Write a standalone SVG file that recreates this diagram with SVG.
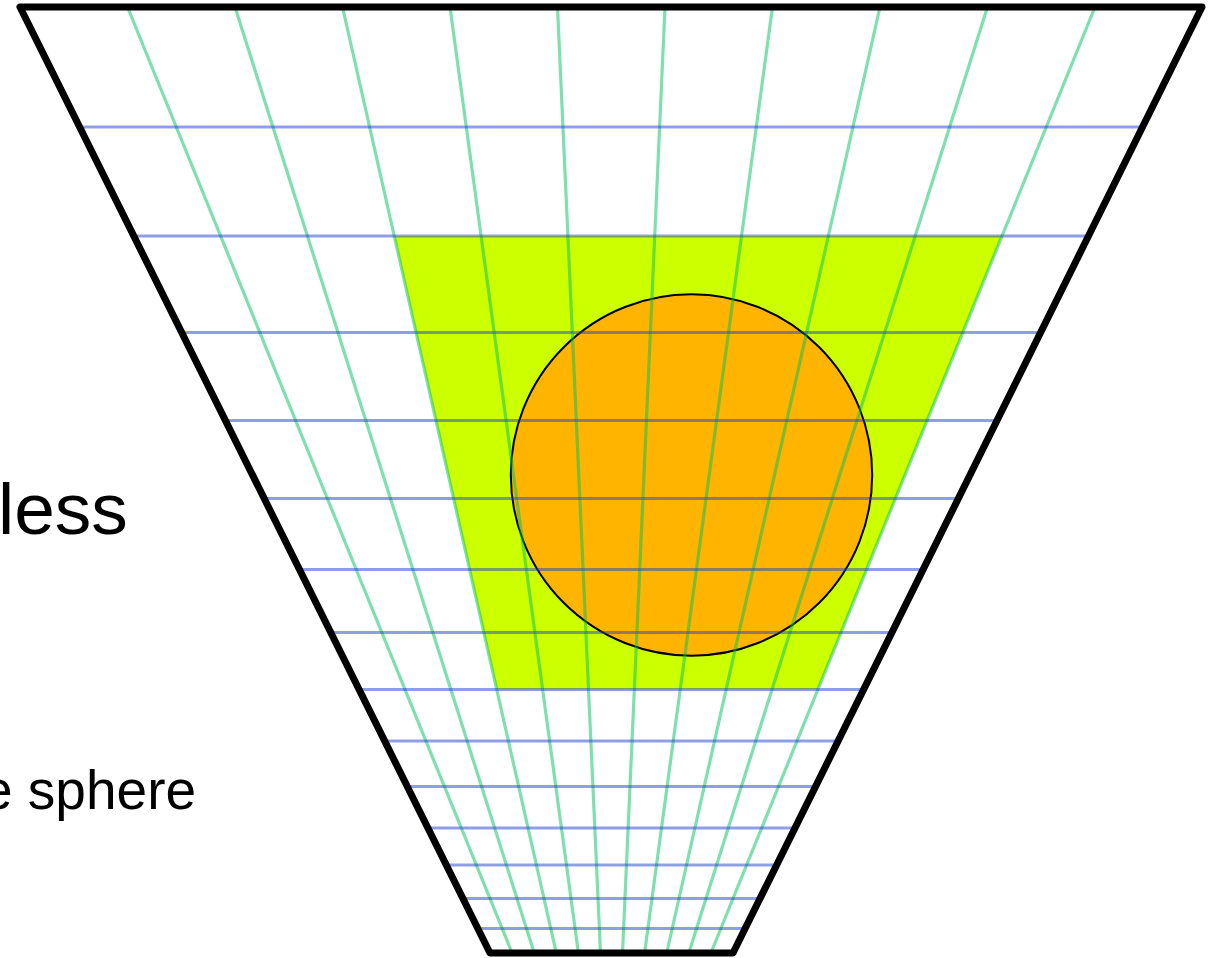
<svg xmlns="http://www.w3.org/2000/svg" width="1210" height="958" viewBox="0 0 1210 958">
<style>
.g{stroke:#00c060;stroke-opacity:0.5;stroke-width:3.2;fill:none}
.b{stroke:#2040d0;stroke-opacity:0.5;stroke-width:3.2;fill:none}
.t{font-family:"Liberation Sans",Arial,sans-serif;fill:#000}
</style>
<rect width="1210" height="958" fill="#fff"/>
<g id="region"><polygon points="394.3,236 1002,236 817.9,689.5 496.8,689.5" fill="#ccff00"/></g>
<g id="sphere"><circle cx="691.5" cy="475" r="180.7" fill="#ffb400" stroke="#000" stroke-width="2"/></g>
<g id="grid">
<g id="depth-lines">
<line class="g" x1="127.5" y1="7" x2="512.1" y2="953"/>
<line class="g" x1="235" y1="7" x2="534.2" y2="953"/>
<line class="g" x1="342.5" y1="7" x2="556.3" y2="953"/>
<line class="g" x1="450" y1="7" x2="578.4" y2="953"/>
<line class="g" x1="557.5" y1="7" x2="600.5" y2="953"/>
<line class="g" x1="665" y1="7" x2="622.5" y2="953"/>
<line class="g" x1="772.5" y1="7" x2="644.6" y2="953"/>
<line class="g" x1="880" y1="7" x2="666.7" y2="953"/>
<line class="g" x1="987.5" y1="7" x2="688.8" y2="953"/>
<line class="g" x1="1095" y1="7" x2="710.9" y2="953"/>
</g>
<g id="slices">
<line class="b" x1="79.6" y1="127" x2="1142.5" y2="127"/>
<line class="b" x1="133.8" y1="236" x2="1088.5" y2="236"/>
<line class="b" x1="182" y1="332.5" x2="1040.4" y2="332.5"/>
<line class="b" x1="225.7" y1="420.5" x2="996.8" y2="420.5"/>
<line class="b" x1="264.2" y1="498.5" x2="958.3" y2="498.5"/>
<line class="b" x1="299.5" y1="569.5" x2="923.1" y2="569.5"/>
<line class="b" x1="330.8" y1="632.5" x2="891.9" y2="632.5"/>
<line class="b" x1="359.1" y1="689.5" x2="863.6" y2="689.5"/>
<line class="b" x1="384.7" y1="741" x2="838.1" y2="741"/>
<line class="b" x1="407.3" y1="786.5" x2="815.5" y2="786.5"/>
<line class="b" x1="427.9" y1="828" x2="794.9" y2="828"/>
<line class="b" x1="446.3" y1="865" x2="776.6" y2="865"/>
<line class="b" x1="462.9" y1="898.5" x2="760" y2="898.5"/>
<line class="b" x1="477.6" y1="928.5" x2="745.4" y2="928.5"/>
</g>
</g>
<g id="frustum"><polygon points="20,7 1202,7 733,953 490,953" fill="none" stroke="#000" stroke-width="7" stroke-linejoin="round"/></g>
<g id="labels">
<text class="t" x="-2" y="534" font-size="73">less</text>
<text class="t" x="-18" y="809" font-size="55">e sphere</text>
</g>
</svg>
